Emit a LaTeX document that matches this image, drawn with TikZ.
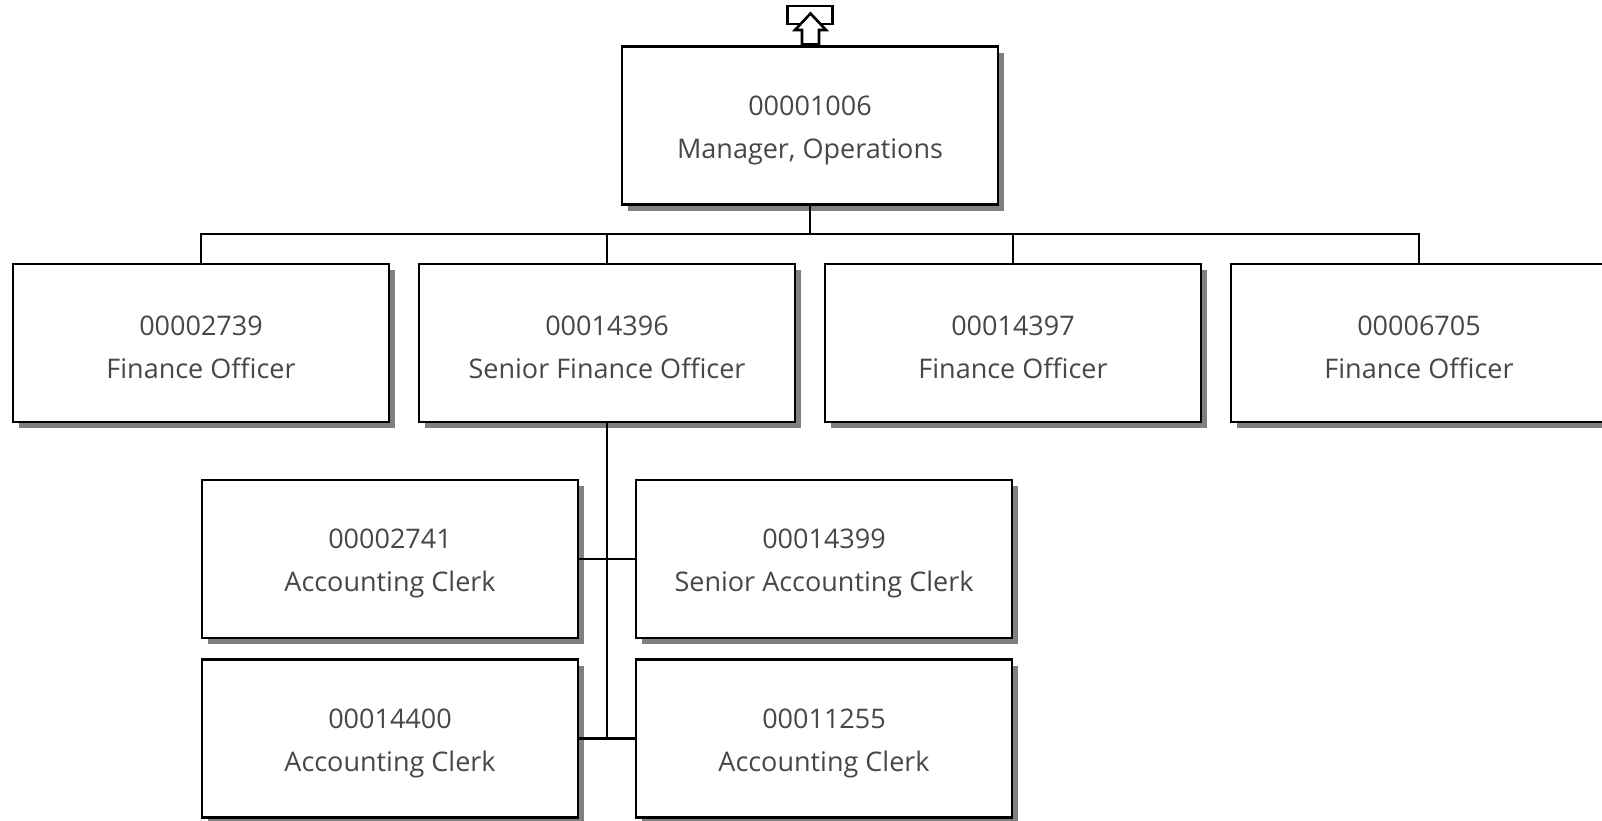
\documentclass[tikz,border=0pt]{standalone}
\usepackage{fontspec}
\setmainfont{Open Sans}
\usetikzlibrary{shadows}
\newcommand{\lift}{\rule{0pt}{29pt}}
\begin{document}
\begin{tikzpicture}[x=1pt,y=-1pt,
  posbox/.style={draw=black, line width=2.6pt, fill=white, minimum width=376pt, minimum height=158pt,
    inner sep=0pt, align=center, text=black!72, font=\fontsize{27}{43}\selectfont,
    drop shadow={shadow xshift=6pt, shadow yshift=-6pt, fill=black!50, opacity=1}},
  link/.style={line width=2.4pt}]
\useasboundingbox (0,0) rectangle (1602,820);
\begin{scope}
\clip (0,0) rectangle (1602,820);
% top
\node[posbox] (top) at (810,125.5) {\lift 00001006\\Manager, Operations};
% level 1
\node[posbox] (f1) at (201,343) {\lift 00002739\\Finance Officer};
\node[posbox] (f2) at (607,343) {\lift 00014396\\Senior Finance Officer};
\node[posbox] (f3) at (1013,343) {\lift 00014397\\Finance Officer};
\node[posbox] (f4) at (1419,343) {\lift 00006705\\Finance Officer};
% level 2
\node[posbox] (c1) at (390,559) {\lift 00002741\\Accounting Clerk};
\node[posbox] (c2) at (824,559) {\lift 00014399\\Senior Accounting Clerk};
\node[posbox] (c3) at (390,738.5) {\lift 00014400\\Accounting Clerk};
\node[posbox] (c4) at (824,738.5) {\lift 00011255\\Accounting Clerk};
% connectors
\coordinate (bus) at (810,234);
\draw[link] (top.south) -- (bus);
\draw[link] (f1.north) |- (bus) -| (f4.north);
\draw[link] (f2.north) -- (f2.north |- bus);
\draw[link] (f3.north) -- (f3.north |- bus);
\coordinate (j2) at (f2.south |- c3.east);
\draw[link] (f2.south) -- (j2);
\draw[link] (c1.east) -- (c2.west);
\draw[link] (c3.east) -- (c4.west);
% up icon
\node[draw, line width=2.6pt, minimum width=45pt, minimum height=18pt, inner sep=0pt] (upbox) at (810,15) {};
\draw[line width=2.6pt, fill=white, line join=miter] (810.5,13.5) -- (826,30) -- (819,30) -- (819,44.5) -- (802,44.5) -- (802,30) -- (795,30) -- cycle;
\end{scope}
\end{tikzpicture}
\end{document}
